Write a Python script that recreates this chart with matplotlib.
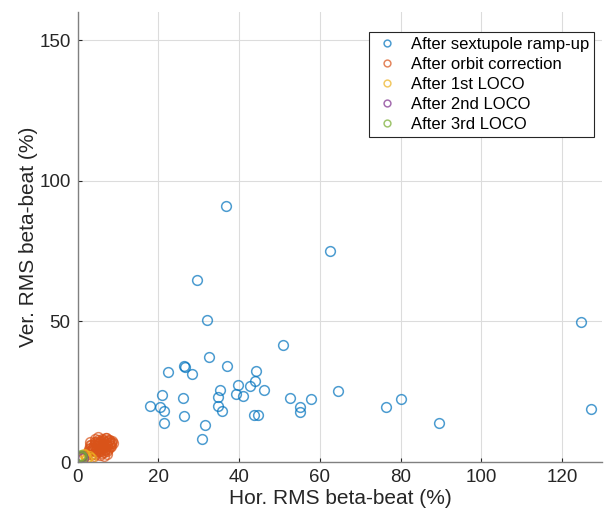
import numpy as np
import matplotlib
matplotlib.use("Agg")
import matplotlib.pyplot as plt

plt.rcParams['font.family'] = ['Liberation Sans', 'DejaVu Sans']

# After sextupole ramp-up
ramp_x = [36.8, 62.6, 124.8, 127.2, 29.7, 32.1, 50.8, 32.6, 26.4, 26.7,
          36.9, 22.4, 28.4, 44.3, 44.0, 42.6, 46.3, 39.7, 39.2, 40.9,
          35.3, 34.9, 34.9, 35.9, 52.6, 55.1, 55.1, 57.8, 64.4, 76.4,
          80.0, 89.5, 21.0, 18.0, 20.4, 21.5, 21.5, 26.2, 26.3, 31.5,
          30.7, 43.6, 44.7]
ramp_y = [91.2, 75.2, 49.7, 18.8, 64.7, 50.5, 41.5, 37.2, 34.1, 33.7,
          34.1, 31.9, 31.3, 32.5, 28.8, 26.9, 25.7, 27.5, 24.3, 23.5,
          25.7, 23.0, 19.8, 18.1, 22.9, 19.7, 17.8, 22.4, 25.4, 19.4,
          22.5, 13.7, 23.8, 20.0, 19.6, 18.1, 13.9, 22.8, 16.4, 13.3,
          8.3, 16.7, 16.8]

# After orbit correction
orb_x = [2.6, 3.0, 3.4, 3.8, 4.2, 4.6, 5.0, 5.4, 5.8, 6.2,
         6.6, 7.0, 7.4, 7.8, 8.2, 8.6, 4.8, 5.2, 3.6, 4.4,
         6.0, 6.8, 7.6, 8.0, 2.2, 3.2, 5.6, 6.4, 7.2, 8.4,
         4.0, 5.0, 6.2, 3.0, 4.6, 7.0, 2.8, 5.4, 8.8, 6.6,
         3.3, 3.9, 4.5, 5.1, 5.7, 6.3, 6.9, 7.5, 8.1, 4.3,
         4.9, 5.5, 6.1, 6.7, 7.3, 7.9, 3.5, 4.1, 4.7, 5.3,
         5.9, 6.5, 7.1, 7.7, 8.3, 3.7, 4.3, 5.6, 6.8, 7.4]
orb_y = [3.5, 5.0, 6.2, 4.4, 7.0, 5.6, 8.9, 6.4, 4.8, 7.6,
         5.8, 7.2, 6.0, 7.8, 6.8, 7.4, 3.6, 5.2, 2.8, 8.2,
         3.2, 4.2, 4.6, 5.4, 2.4, 7.0, 2.6, 8.0, 3.0, 5.8,
         2.2, 6.8, 6.4, 6.0, 4.0, 8.4, 4.6, 3.8, 6.6, 2.0,
         4.2, 5.4, 6.6, 7.8, 4.0, 5.2, 6.4, 7.6, 6.2, 3.0,
         5.8, 7.0, 8.2, 4.8, 5.6, 8.0, 3.8, 6.0, 4.6, 6.8,
         7.4, 3.4, 8.4, 6.6, 7.0, 5.0, 7.2, 5.0, 5.2, 4.0]

# After 1st LOCO
loco1_x = [1.2, 1.8, 2.4, 2.9, 1.5, 2.1, 3.3]
loco1_y = [1.6, 2.4, 1.3, 2.1, 3.0, 1.0, 1.5]

# After 2nd LOCO
loco2_x = [0.8, 1.1, 1.3]
loco2_y = [1.8, 2.2, 1.5]

# After 3rd LOCO
loco3_x = [0.7, 0.9, 1.0]
loco3_y = [2.0, 2.5, 1.7]

labels = ["After sextupole ramp-up", "After orbit correction",
          "After 1st LOCO", "After 2nd LOCO", "After 3rd LOCO"]
colors = ["#0072BD", "#D95319", "#EDB120", "#7E2F8E", "#77AC30"]

fig = plt.figure(figsize=(6.06, 5.21), dpi=100)
ax = fig.add_axes([0.128, 0.1132, 0.866, 0.8637])

series = [(ramp_x, ramp_y), (orb_x, orb_y), (loco1_x, loco1_y),
          (loco2_x, loco2_y), (loco3_x, loco3_y)]
for (xs, ys), lab, c in zip(series, labels, colors):
    ax.plot(xs, ys, linestyle='none', marker='o', markersize=7,
            markerfacecolor='none', markeredgecolor=c, markeredgewidth=1.1,
            alpha=0.7, label=lab)

ax.set_xlim(0, 130)
ax.set_ylim(0, 160)
ax.set_xticks(np.arange(0, 121, 20))
ax.set_yticks([0, 50, 100, 150])
ax.grid(True, color='#dcdcdc', linewidth=0.8)
ax.set_axisbelow(True)
ax.tick_params(direction='in', length=3, labelsize=13.5, colors='#262626', pad=5)
for s in ['top', 'right']:
    ax.spines[s].set_visible(False)
for s in ['left', 'bottom']:
    ax.spines[s].set_color('#808080')
    ax.spines[s].set_linewidth(1.0)

ax.set_xlabel("Hor. RMS beta-beat (%)", fontsize=15, color='#262626', labelpad=2)
ax.set_ylabel("Ver. RMS beta-beat (%)", fontsize=15, color='#262626', labelpad=1)

leg = ax.legend(loc='upper right', bbox_to_anchor=(1.0, 0.975), fontsize=12,
                markerscale=0.7, handletextpad=0.6, borderpad=0.3,
                labelspacing=0.3, handlelength=1.6, fancybox=False, framealpha=1)
leg.get_frame().set_edgecolor('#262626')
leg.get_frame().set_linewidth(0.8)

fig.savefig('out.png', dpi=100)
